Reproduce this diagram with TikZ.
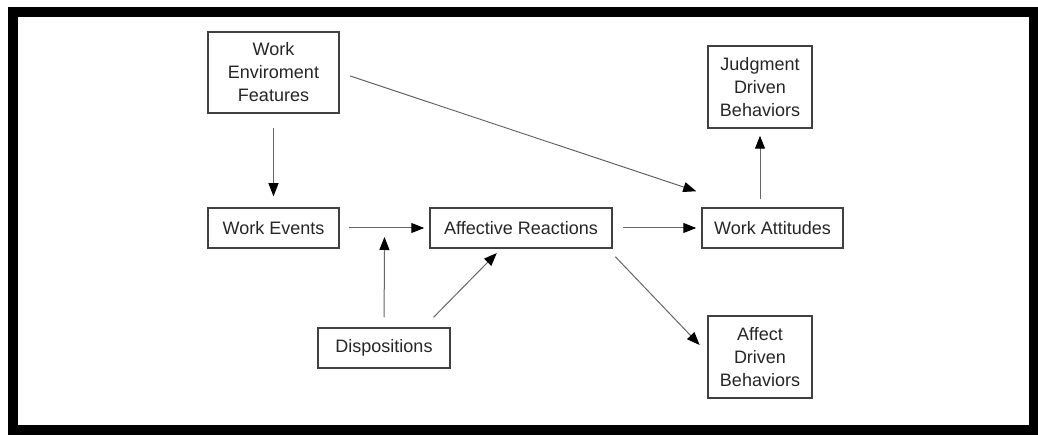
\documentclass[tikz,border=0pt]{standalone}
\usepackage{fontspec}
\setmainfont{Liberation Sans}
\usepackage{tikz}
\usetikzlibrary{arrows.meta,calc}

\begin{document}
\begin{tikzpicture}[x=1pt,y=-1pt,->,>={Triangle[length=13pt,width=10pt,color=black,fill=black]},
                    box/.style={draw=black!75,line width=1.5pt,fill=white,align=center,inner sep=0pt,
                                text=black!85,font=\fontsize{18}{23}\selectfont},
                    conn/.style={color=black!60,line width=1pt}]

  % frame
  \useasboundingbox (0,0) rectangle (1038,435);
  \fill[white] (0,0) rectangle (1038,435);
  \draw[-,line width=10pt] (13,12) rectangle (1034,430);

  \node[box,minimum width=131pt,minimum height=81pt] (wef)  at (273.5,72.5) {Work\\Enviroment\\Features};
  \node[box,minimum width=131pt,minimum height=40pt] (we)   at (273.5,228) {Work Events};
  \node[box,minimum width=182pt,minimum height=40pt] (ar)   at (521,228)   {Affective Reactions};
  \node[box,minimum width=132pt,minimum height=40pt] (disp) at (384,348)   {Dispositions};
  \node[box,minimum width=141pt,minimum height=40pt] (wa)   at (772.5,228) {Work Attitudes};
  \node[box,minimum width=104pt,minimum height=82pt] (jdb)  at (760,87)    {Judgment\\Driven\\Behaviors};
  \node[box,minimum width=104pt,minimum height=82pt] (adb)  at (760,357)   {Affect\\Driven\\Behaviors};

  \coordinate (j) at ($(we.east)!0.5!(ar.west)$);
  \coordinate (wa top) at (jdb.south |- wa.north);

  \path[conn]
    (wef) edge [shorten <=14pt,shorten >=11pt] (we)
    (wef.east) edge [shorten <=11pt] ([xshift=-5pt,yshift=16pt]wa.north west)
    (we) edge [shorten <=9pt,shorten >=5pt] (ar)
    (disp) edge [shorten <=10pt,shorten >=9pt] (j)
    ([xshift=-27pt]disp.north east) edge [shorten <=14pt,shorten >=6pt] ([xshift=-20pt]ar.south)
    (ar) edge [shorten <=10pt,shorten >=5pt] (wa)
    ([xshift=-5pt]ar.south east) edge [shorten <=11pt,shorten >=11pt] ([yshift=4pt]adb.west)
    (wa top) edge [shorten <=8pt,shorten >=7pt] (jdb.south);
\end{tikzpicture}
\end{document}
